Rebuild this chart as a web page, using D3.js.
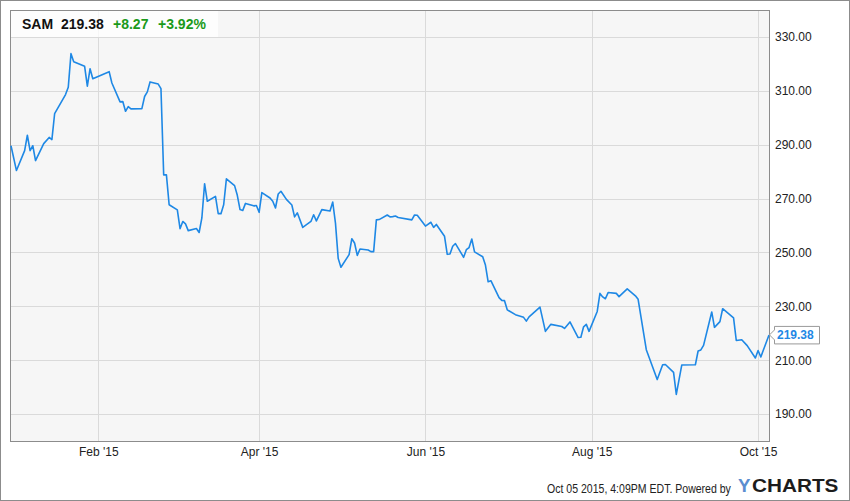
<!DOCTYPE html>
<meta charset="utf-8">

<style>

body { margin: 0; background: #fff; }

svg text {
  font-family: "Liberation Sans", Arial, sans-serif;
}

.grid line {
  stroke: #dadada;
  shape-rendering: crispEdges;
}

.axis text {
  font-size: 12px;
  fill: #222;
}

</style>

<svg width="850" height="501"></svg>

<script src="https://d3js.org/d3.v7.min.js"></script>

<script>

// SAM daily close
var dates = [
  "2014-12-31","2015-01-02","2015-01-05","2015-01-06","2015-01-07","2015-01-08","2015-01-09",
  "2015-01-12","2015-01-14","2015-01-15","2015-01-16","2015-01-20","2015-01-21","2015-01-22",
  "2015-01-23","2015-01-27","2015-01-28","2015-01-29","2015-01-30","2015-02-05","2015-02-06",
  "2015-02-09","2015-02-10","2015-02-11","2015-02-12","2015-02-13","2015-02-17","2015-02-18",
  "2015-02-19","2015-02-20","2015-02-23","2015-02-24","2015-02-25","2015-02-26","2015-02-27",
  "2015-03-02","2015-03-03","2015-03-04","2015-03-05","2015-03-06","2015-03-09","2015-03-10",
  "2015-03-11","2015-03-12","2015-03-13","2015-03-16","2015-03-17","2015-03-18","2015-03-19",
  "2015-03-20","2015-03-23","2015-03-24","2015-03-25","2015-03-26","2015-03-27","2015-03-30",
  "2015-03-31","2015-04-01","2015-04-02","2015-04-05","2015-04-06","2015-04-07","2015-04-08",
  "2015-04-09","2015-04-11","2015-04-13","2015-04-14","2015-04-15","2015-04-17","2015-04-20",
  "2015-04-21","2015-04-22","2015-04-24","2015-04-27","2015-04-28","2015-04-29","2015-04-30",
  "2015-05-01","2015-05-04","2015-05-05","2015-05-06","2015-05-07","2015-05-08","2015-05-11",
  "2015-05-12","2015-05-13","2015-05-14","2015-05-15","2015-05-18","2015-05-19","2015-05-20",
  "2015-05-21","2015-05-22","2015-05-27","2015-05-28","2015-05-29","2015-06-01","2015-06-03",
  "2015-06-04","2015-06-05","2015-06-08","2015-06-09","2015-06-10","2015-06-11","2015-06-12",
  "2015-06-15","2015-06-16","2015-06-17","2015-06-18","2015-06-19","2015-06-22","2015-06-23",
  "2015-06-24","2015-06-25","2015-06-28","2015-06-29","2015-06-30","2015-07-01","2015-07-04",
  "2015-07-07","2015-07-08","2015-07-09","2015-07-13","2015-07-15","2015-07-17","2015-07-21",
  "2015-07-22","2015-07-24","2015-07-27","2015-07-28","2015-07-29","2015-07-30","2015-07-31",
  "2015-08-03","2015-08-04","2015-08-05","2015-08-06","2015-08-07","2015-08-10","2015-08-11",
  "2015-08-14","2015-08-17","2015-08-18","2015-08-21","2015-08-25","2015-08-27","2015-08-28",
  "2015-08-31","2015-09-01","2015-09-03","2015-09-08","2015-09-09","2015-09-10","2015-09-11",
  "2015-09-14","2015-09-15","2015-09-17","2015-09-18","2015-09-22","2015-09-23","2015-09-25",
  "2015-09-27","2015-09-30","2015-10-01","2015-10-02","2015-10-05"
];

var prices = [
  289.6,280.4,287.8,293.5,287.8,289.6,284.1,
  290.4,292.7,291.9,301.5,308.6,311.3,323.8,
  320.8,319.1,311.7,318.2,314.5,317.1,312.9,
  305.9,306.0,302.4,304.1,303.3,303.4,307.9,
  309.6,313.3,312.5,310.8,278.8,278.8,267.7,
  265.8,258.8,261.5,260.6,258.1,258.9,257.4,
  262.8,275.5,269.0,270.8,264.4,264.4,267.7,
  277.3,274.8,271.2,265.9,265.6,268.2,267.3,
  267.4,264.9,272.2,270.2,269.0,266.5,271.7,
  272.7,269.7,267.6,263.2,264.7,259.3,261.5,
  264.0,261.7,265.9,265.4,268.7,260.9,247.8,
  244.5,249.2,255.1,253.5,248.9,251.3,250.9,
  250.3,250.3,262.1,262.2,263.9,263.2,263.3,
  263.5,263.0,262.1,263.9,263.8,259.8,261.2,
  259.3,260.4,256.0,249.3,249.4,252.3,253.3,
  248.2,251.0,251.8,255.0,250.2,248.4,245.3,
  239.1,239.5,233.2,232.2,232.1,228.7,226.9,
  225.9,224.5,226.1,229.7,220.7,223.3,222.5,
  221.8,224.2,218.4,218.5,222.4,223.3,220.7,
  228.1,234.8,233.5,232.8,235.1,234.8,233.6,
  236.5,233.9,232.6,213.9,202.8,208.3,208.4,
  205.5,197.3,208.2,208.3,213.4,213.8,215.5,
  227.9,222.2,224.3,229.1,225.7,217.3,217.6,
  215.4,210.8,213.6,211.2,219.38
];

var yTicks = [190, 210, 230, 250, 270, 290, 310, 330];
var xTicks = ["2015-02-01", "2015-04-01", "2015-06-01", "2015-08-01", "2015-10-01"];

var ticker = "SAM";
var lastPrice = "219.38";
var change = "+8.27";
var changePct = "+3.92%";
var stamp = "Oct 05 2015, 4:09PM EDT.  Powered by";

var parse = d3.timeParse("%Y-%m-%d");

var data = dates.map(function(d, i) { return { date: parse(d), value: prices[i] }; });

var svg = d3.select("svg");

var plotL = 11, plotR = 769, plotT = 10, plotB = 441;

var x = d3.scaleTime()
    .domain([parse("2014-12-31"), parse("2015-10-05")])
    .range([plotL, plotR]);

var y = d3.scaleLinear()
    .domain([180, 340])
    .range([plotB, plotT]);

// outer frame
svg.append("rect")
    .attr("x", 0.5).attr("y", 0.5)
    .attr("width", 849).attr("height", 500)
    .attr("fill", "#fff")
    .attr("stroke", "#8c8c8c");

// plot background
svg.append("rect")
    .attr("x", 10.5).attr("y", 10.5)
    .attr("width", plotR - 10).attr("height", plotB - 10)
    .attr("fill", "#f6f6f6");

// grid lines
svg.append("g")
    .attr("class", "grid")
    .attr("transform", "translate(10,0)")
    .call(d3.axisRight(y).tickValues(yTicks).tickSize(plotR - 10).tickFormat(""))
    .call(function(g) { g.select(".domain").remove(); });

svg.append("g")
    .attr("class", "grid")
    .attr("transform", "translate(0," + plotT + ")")
    .call(d3.axisBottom(x).tickValues(xTicks.map(parse)).tickSize(plotB - plotT).tickFormat(""))
    .call(function(g) { g.select(".domain").remove(); });

// plot border
svg.append("rect")
    .attr("x", 10.5).attr("y", 10.5)
    .attr("width", plotR - 10).attr("height", plotB - 10)
    .attr("fill", "none")
    .attr("stroke", "#8c8c8c");

// axis labels
svg.append("g")
    .attr("class", "axis")
    .attr("transform", "translate(" + plotR + ",0)")
    .call(d3.axisRight(y).tickValues(yTicks).tickSize(0).tickPadding(6).tickFormat(d3.format(".2f")))
    .call(function(g) { g.select(".domain").remove(); });

svg.append("g")
    .attr("class", "axis")
    .attr("transform", "translate(0," + plotB + ")")
    .call(d3.axisBottom(x).tickValues(xTicks.map(parse)).tickSize(0).tickPadding(6).tickFormat(d3.timeFormat("%b '%y")))
    .call(function(g) { g.select(".domain").remove(); });

// price line
var line = d3.line()
    .x(function(d) { return x(d.date); })
    .y(function(d) { return y(d.value); });

svg.append("path")
    .datum(data)
    .attr("d", line)
    .attr("fill", "none")
    .attr("stroke", "#1e88e5")
    .attr("stroke-width", 1.6)
    .attr("stroke-linejoin", "round");

// header box
svg.append("rect")
    .attr("x", 11).attr("y", 11)
    .attr("width", 207).attr("height", 26)
    .attr("fill", "#fff")
    .attr("fill-opacity", 0.75);

var head = svg.append("g").attr("font-size", 14).attr("font-weight", "bold");
head.append("text").attr("x", 22).attr("y", 29).attr("fill", "#111").text(ticker);
head.append("text").attr("x", 61).attr("y", 29).attr("fill", "#111").text(lastPrice);
head.append("text").attr("x", 113).attr("y", 29).attr("fill", "#1a9a1a").text(change);
head.append("text").attr("x", 158).attr("y", 29).attr("fill", "#1a9a1a").text(changePct);

// last value flag
var last = data[data.length - 1];
var lx = x(last.date), ly = y(last.value);
svg.append("path")
    .attr("d", "M" + (lx + 0.5) + "," + ly +
               "L" + (lx + 5.5) + "," + (ly - 5) +
               "V" + (ly - 8.5) + "H819.5V" + (ly + 9) +
               "H" + (lx + 5.5) + "V" + (ly + 5) + "Z")
    .attr("fill", "#fff")
    .attr("stroke", "#999");

svg.append("text")
    .attr("x", 777).attr("y", ly + 4.5)
    .attr("font-size", 12).attr("font-weight", "bold")
    .attr("fill", "#1e88e5")
    .text(d3.format(".2f")(last.value));

// footer: squeeze/stretch each piece to the width it has in the original
function fitted(str, px, py, width, size, weight, color) {
  var t = svg.append("text")
      .attr("font-size", size)
      .attr("font-weight", weight)
      .attr("fill", color)
      .text(str);
  var sx = width / t.node().getComputedTextLength();
  t.attr("transform", "translate(" + px + "," + py + ") scale(" + sx + ",1)");
  return t;
}

fitted(stamp, 547, 493, 184, 13, "normal", "#222");
fitted("Y", 738, 491.5, 12.5, 18, "bold", "#5b8ed0");
fitted("CHARTS", 752, 491.5, 86.5, 18, "bold", "#1c1c1c");

</script>
